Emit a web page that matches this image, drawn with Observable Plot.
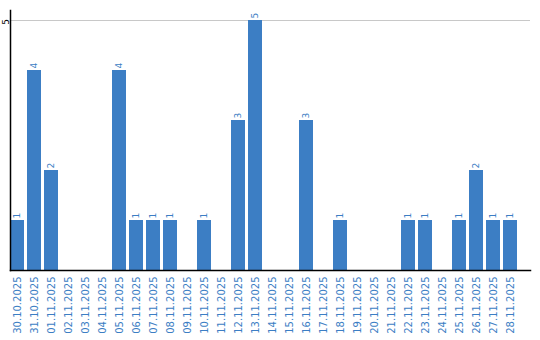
<!DOCTYPE html>
<html>
<head>
<meta charset="utf-8">
<script src="https://cdn.jsdelivr.net/npm/d3@7"></script>
<script src="https://cdn.jsdelivr.net/npm/@observablehq/plot@0.6"></script>
<style>
  html, body { margin: 0; padding: 0; background: #fff; }
  #chart { width: 540px; height: 340px; }
</style>
</head>
<body>
<div id="chart"></div>
<script>
const dates = ["30.10.2025","31.10.2025","01.11.2025","02.11.2025","03.11.2025","04.11.2025","05.11.2025","06.11.2025","07.11.2025","08.11.2025","09.11.2025","10.11.2025","11.11.2025","12.11.2025","13.11.2025","14.11.2025","15.11.2025","16.11.2025","17.11.2025","18.11.2025","19.11.2025","20.11.2025","21.11.2025","22.11.2025","23.11.2025","24.11.2025","25.11.2025","26.11.2025","27.11.2025","28.11.2025"];
const counts = [1,4,2,0,0,0,4,1,1,1,0,1,0,3,5,0,0,3,0,1,0,0,0,1,1,0,1,2,1,1];
const yTicks = [5];

const data = dates.map((d, i) => ({date: d, count: counts[i]}));
const nonZero = data.filter(d => d.count > 0);
const blue = "#3c7ec4";

const chart = Plot.plot({
  width: 540,
  height: 340,
  marginTop: 10,
  marginBottom: 70,
  marginLeft: 10,
  marginRight: 10,
  style: {fontFamily: "DejaVu Sans, sans-serif", background: "#fff"},
  x: {domain: dates, range: [10, 517], paddingInner: 0.18, paddingOuter: 0},
  y: {domain: [0, 5], range: [270, 20]},
  marks: [
    Plot.ruleY(yTicks, {stroke: "#c8c8c8", strokeWidth: 1, strokeOpacity: 1}),
    Plot.barY(nonZero, {x: "date", y: "count", fill: blue}),
    Plot.text(nonZero, {x: "date", y: "count", text: d => String(d.count), rotate: -90, textAnchor: "start", dy: -2, fill: blue, fontSize: 9}),
    Plot.axisX({tickSize: 0, tickRotate: -90, tickPadding: 6, fontSize: 10, color: blue, label: null}),
    Plot.axisY({ticks: yTicks, tickFormat: d => String(d), tickSize: 0, tickRotate: -90, tickPadding: 2, dy: 1.5, fontSize: 9, label: null}),
    Plot.frame({anchor: "left", stroke: "#000", strokeWidth: 1.5}),
    Plot.frame({anchor: "bottom", stroke: "#000", strokeWidth: 1.5})
  ]
});
document.getElementById("chart").appendChild(chart);
</script>
</body>
</html>
